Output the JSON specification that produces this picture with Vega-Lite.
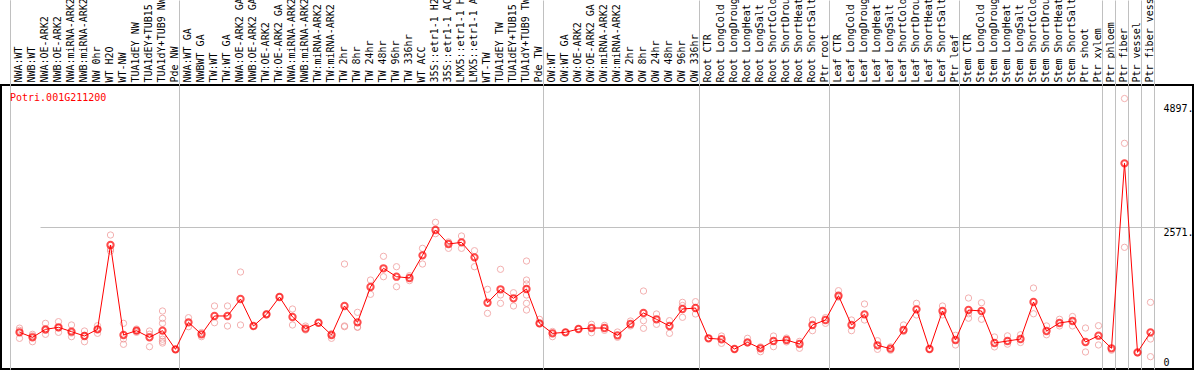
{
  "$schema": "https://vega.github.io/schema/vega-lite/v6.json",
  "width": 1192,
  "height": 284,
  "autosize": {"type": "none"},
  "padding": {"left": 1, "top": 85, "right": 1, "bottom": 1},
  "background": "white",
  "config": {"view": {"stroke": "black", "strokeWidth": 2}, "font": "DejaVu Sans Mono"},
  "title": {"text": "Potri.001G211200", "anchor": "start", "frame": "group", "color": "#ff0000", "font": "DejaVu Sans Mono", "fontSize": 10, "fontWeight": "normal", "baseline": "middle", "offset": -128, "dx": 9},
  "datasets": {
    "means": [
      {"c": "NWA:WT", "v": 664}, {"c": "NWB:WT", "v": 574}, {"c": "NWA:OE-ARK2", "v": 718}, {"c": "NWB:OE-ARK2", "v": 755},
      {"c": "NWA:miRNA-ARK2", "v": 676}, {"c": "NWB:miRNA-ARK2", "v": 597}, {"c": "NW 0hr", "v": 718}, {"c": "WT H2O", "v": 2245},
      {"c": "WT-NW", "v": 616}, {"c": "TUA1dEY NW", "v": 694}, {"c": "TUA1dEY+TUB15 NW", "v": 574}, {"c": "TUA1dY+TUB9 NW", "v": 694},
      {"c": "Pde NW", "v": 356},
      {"c": "NWA:WT GA", "v": 845}, {"c": "NWBWT GA", "v": 628}, {"c": "TW:WT", "v": 960}, {"c": "TW:WT GA", "v": 960},
      {"c": "NWA:OE-ARK2 GA", "v": 1267}, {"c": "NWB:OE-ARK2 GA", "v": 778}, {"c": "TW:OE-ARK2", "v": 990}, {"c": "TW:OE-ARK2 GA", "v": 1304},
      {"c": "NWA:miRNA-ARK2 GA", "v": 942}, {"c": "NWB:miRNA-ARK2 GA", "v": 730}, {"c": "TW:miRNA-ARK2", "v": 838}, {"c": "TW:miRNA-ARK2 GA", "v": 616},
      {"c": "TW 2hr", "v": 1141}, {"c": "TW 8hr", "v": 845}, {"c": "TW 24hr", "v": 1485}, {"c": "TW 48hr", "v": 1823},
      {"c": "TW 96hr", "v": 1671}, {"c": "TW 336hr", "v": 1648}, {"c": "WT ACC", "v": 2058}, {"c": "35S::etr1-1 H2O", "v": 2517},
      {"c": "35S::etr1-1 ACC", "v": 2263}, {"c": "LMX5::etr1-1 H2O", "v": 2293}, {"c": "LMX5::etr1-1 ACC", "v": 2022}, {"c": "WT-TW", "v": 1200},
      {"c": "TUA1dEY TW", "v": 1443}, {"c": "TUA1dEY+TUB15 TW", "v": 1280}, {"c": "TUA1dY+TUB9 TW", "v": 1448}, {"c": "Pde TW", "v": 827},
      {"c": "OW:WT", "v": 646}, {"c": "OW:WT GA", "v": 664}, {"c": "OW:OE-ARK2", "v": 724}, {"c": "OW:OE-ARK2 GA", "v": 742},
      {"c": "OW:miRNA-ARK2", "v": 742}, {"c": "OW:miRNA-ARK2 GA", "v": 610}, {"c": "OW 2hr", "v": 815}, {"c": "OW 8hr", "v": 1014},
      {"c": "OW 24hr", "v": 900}, {"c": "OW 48hr", "v": 778}, {"c": "OW 96hr", "v": 1086}, {"c": "OW 336hr", "v": 1104},
      {"c": "Root CTR", "v": 556}, {"c": "Root LongCold", "v": 538}, {"c": "Root LongDrought", "v": 362}, {"c": "Root LongHeat", "v": 483},
      {"c": "Root LongSalt", "v": 375}, {"c": "Root ShortCold", "v": 507}, {"c": "Root ShortDrought", "v": 525}, {"c": "Root ShortHeat", "v": 453},
      {"c": "Root ShortSalt", "v": 797}, {"c": "Ptr root", "v": 887},
      {"c": "Leaf CTR", "v": 1327}, {"c": "Leaf LongCold", "v": 797}, {"c": "Leaf LongDrought", "v": 990}, {"c": "Leaf LongHeat", "v": 429},
      {"c": "Leaf LongSalt", "v": 368}, {"c": "Leaf ShortCold", "v": 706}, {"c": "Leaf ShortDrought", "v": 1080}, {"c": "Leaf ShortHeat", "v": 362},
      {"c": "Leaf ShortSalt", "v": 1050}, {"c": "Ptr leaf", "v": 525},
      {"c": "Stem CTR", "v": 1068}, {"c": "Stem LongCold", "v": 1050}, {"c": "Stem LongDrought", "v": 471}, {"c": "Stem LongHeat", "v": 507},
      {"c": "Stem LongSalt", "v": 543}, {"c": "Stem ShortCold", "v": 1213}, {"c": "Stem ShortDrought", "v": 688}, {"c": "Stem ShortHeat", "v": 833},
      {"c": "Stem ShortSalt", "v": 869}, {"c": "Ptr shoot", "v": 489}, {"c": "Ptr xylem", "v": 603},
      {"c": "Ptr phloem", "v": 375}, {"c": "Ptr fiber", "v": 3724}, {"c": "Ptr vessel", "v": 302}, {"c": "Ptr fiber vessel", "v": 664}
    ],
    "reps": [
      {"c": "NWA:WT", "v": 740}, {"c": "NWA:WT", "v": 700}, {"c": "NWA:WT", "v": 555},
      {"c": "NWB:WT", "v": 628}, {"c": "NWB:WT", "v": 600}, {"c": "NWB:WT", "v": 494},
      {"c": "NWA:OE-ARK2", "v": 827}, {"c": "NWA:OE-ARK2", "v": 628}, {"c": "NWA:OE-ARK2", "v": 700},
      {"c": "NWB:OE-ARK2", "v": 857}, {"c": "NWB:OE-ARK2", "v": 664}, {"c": "NWB:OE-ARK2", "v": 745},
      {"c": "NWA:miRNA-ARK2", "v": 797}, {"c": "NWA:miRNA-ARK2", "v": 585}, {"c": "NWA:miRNA-ARK2", "v": 650},
      {"c": "NWB:miRNA-ARK2", "v": 688}, {"c": "NWB:miRNA-ARK2", "v": 494}, {"c": "NWB:miRNA-ARK2", "v": 610},
      {"c": "NW 0hr", "v": 784}, {"c": "NW 0hr", "v": 646}, {"c": "NW 0hr", "v": 720},
      {"c": "WT H2O", "v": 2426}, {"c": "WT H2O", "v": 2136}, {"c": "WT H2O", "v": 2173},
      {"c": "WT-NW", "v": 827}, {"c": "WT-NW", "v": 543}, {"c": "WT-NW", "v": 447},
      {"c": "TUA1dEY NW", "v": 724}, {"c": "TUA1dEY NW", "v": 664}, {"c": "TUA1dEY NW", "v": 694},
      {"c": "TUA1dEY+TUB15 NW", "v": 688}, {"c": "TUA1dEY+TUB15 NW", "v": 404}, {"c": "TUA1dEY+TUB15 NW", "v": 630},
      {"c": "TUA1dY+TUB9 NW", "v": 1050}, {"c": "TUA1dY+TUB9 NW", "v": 917}, {"c": "TUA1dY+TUB9 NW", "v": 827}, {"c": "TUA1dY+TUB9 NW", "v": 600},
      {"c": "TUA1dY+TUB9 NW", "v": 540}, {"c": "TUA1dY+TUB9 NW", "v": 500}, {"c": "TUA1dY+TUB9 NW", "v": 470},
      {"c": "Pde NW", "v": 356}, {"c": "Pde NW", "v": 350},
      {"c": "NWA:WT GA", "v": 929}, {"c": "NWA:WT GA", "v": 766},
      {"c": "NWBWT GA", "v": 585}, {"c": "NWBWT GA", "v": 660},
      {"c": "TW:WT", "v": 1141}, {"c": "TW:WT", "v": 838},
      {"c": "TW:WT GA", "v": 1141}, {"c": "TW:WT GA", "v": 778},
      {"c": "NWA:OE-ARK2 GA", "v": 1756}, {"c": "NWA:OE-ARK2 GA", "v": 797},
      {"c": "NWB:OE-ARK2 GA", "v": 778},
      {"c": "TW:OE-ARK2", "v": 1000}, {"c": "TW:OE-ARK2", "v": 980},
      {"c": "TW:OE-ARK2 GA", "v": 1304},
      {"c": "NWA:miRNA-ARK2 GA", "v": 1086}, {"c": "NWA:miRNA-ARK2 GA", "v": 797},
      {"c": "NWB:miRNA-ARK2 GA", "v": 778}, {"c": "NWB:miRNA-ARK2 GA", "v": 706},
      {"c": "TW:miRNA-ARK2", "v": 838},
      {"c": "TW:miRNA-ARK2 GA", "v": 640}, {"c": "TW:miRNA-ARK2 GA", "v": 556},
      {"c": "TW 2hr", "v": 1901}, {"c": "TW 2hr", "v": 766}, {"c": "TW 2hr", "v": 780},
      {"c": "TW 8hr", "v": 1026}, {"c": "TW 8hr", "v": 755}, {"c": "TW 8hr", "v": 760},
      {"c": "TW 24hr", "v": 1611}, {"c": "TW 24hr", "v": 1352},
      {"c": "TW 48hr", "v": 2040}, {"c": "TW 48hr", "v": 1671},
      {"c": "TW 96hr", "v": 1852}, {"c": "TW 96hr", "v": 1490},
      {"c": "TW 336hr", "v": 1690}, {"c": "TW 336hr", "v": 1600},
      {"c": "WT ACC", "v": 2185}, {"c": "WT ACC", "v": 1901},
      {"c": "35S::etr1-1 H2O", "v": 2656}, {"c": "35S::etr1-1 H2O", "v": 2450},
      {"c": "35S::etr1-1 ACC", "v": 2300}, {"c": "35S::etr1-1 ACC", "v": 2185},
      {"c": "LMX5::etr1-1 H2O", "v": 2408}, {"c": "LMX5::etr1-1 H2O", "v": 2185},
      {"c": "LMX5::etr1-1 ACC", "v": 2142}, {"c": "LMX5::etr1-1 ACC", "v": 1852},
      {"c": "WT-TW", "v": 1443}, {"c": "WT-TW", "v": 1008},
      {"c": "TUA1dEY TW", "v": 1805}, {"c": "TUA1dEY TW", "v": 1340}, {"c": "TUA1dEY TW", "v": 1189},
      {"c": "TUA1dEY+TUB15 TW", "v": 1381}, {"c": "TUA1dEY+TUB15 TW", "v": 1141},
      {"c": "TUA1dY+TUB9 TW", "v": 1955}, {"c": "TUA1dY+TUB9 TW", "v": 1611}, {"c": "TUA1dY+TUB9 TW", "v": 1539},
      {"c": "TUA1dY+TUB9 TW", "v": 1340}, {"c": "TUA1dY+TUB9 TW", "v": 1189}, {"c": "TUA1dY+TUB9 TW", "v": 1068},
      {"c": "Pde TW", "v": 900}, {"c": "Pde TW", "v": 820},
      {"c": "OW:WT", "v": 680}, {"c": "OW:WT", "v": 585},
      {"c": "OW:WT GA", "v": 664},
      {"c": "OW:OE-ARK2", "v": 724},
      {"c": "OW:OE-ARK2 GA", "v": 809}, {"c": "OW:OE-ARK2 GA", "v": 657},
      {"c": "OW:miRNA-ARK2", "v": 790}, {"c": "OW:miRNA-ARK2", "v": 700},
      {"c": "OW:miRNA-ARK2 GA", "v": 670}, {"c": "OW:miRNA-ARK2 GA", "v": 574},
      {"c": "OW 2hr", "v": 869}, {"c": "OW 2hr", "v": 780},
      {"c": "OW 8hr", "v": 1412}, {"c": "OW 8hr", "v": 875}, {"c": "OW 8hr", "v": 737},
      {"c": "OW 24hr", "v": 996}, {"c": "OW 24hr", "v": 809},
      {"c": "OW 48hr", "v": 875}, {"c": "OW 48hr", "v": 646},
      {"c": "OW 96hr", "v": 1207}, {"c": "OW 96hr", "v": 1150}, {"c": "OW 96hr", "v": 936},
      {"c": "OW 336hr", "v": 1219}, {"c": "OW 336hr", "v": 996},
      {"c": "Root CTR", "v": 556},
      {"c": "Root LongCold", "v": 597}, {"c": "Root LongCold", "v": 465},
      {"c": "Root LongDrought", "v": 362},
      {"c": "Root LongHeat", "v": 556}, {"c": "Root LongHeat", "v": 470},
      {"c": "Root LongSalt", "v": 313}, {"c": "Root LongSalt", "v": 400},
      {"c": "Root ShortCold", "v": 597}, {"c": "Root ShortCold", "v": 404},
      {"c": "Root ShortDrought", "v": 560}, {"c": "Root ShortDrought", "v": 490},
      {"c": "Root ShortHeat", "v": 500}, {"c": "Root ShortHeat", "v": 375},
      {"c": "Root ShortSalt", "v": 887}, {"c": "Root ShortSalt", "v": 694},
      {"c": "Ptr root", "v": 930}, {"c": "Ptr root", "v": 827},
      {"c": "Leaf CTR", "v": 1418}, {"c": "Leaf CTR", "v": 1300},
      {"c": "Leaf LongCold", "v": 887}, {"c": "Leaf LongCold", "v": 694},
      {"c": "Leaf LongDrought", "v": 1177}, {"c": "Leaf LongDrought", "v": 887},
      {"c": "Leaf LongHeat", "v": 512}, {"c": "Leaf LongHeat", "v": 356},
      {"c": "Leaf LongSalt", "v": 400}, {"c": "Leaf LongSalt", "v": 340},
      {"c": "Leaf ShortCold", "v": 797}, {"c": "Leaf ShortCold", "v": 680},
      {"c": "Leaf ShortDrought", "v": 1189}, {"c": "Leaf ShortDrought", "v": 978},
      {"c": "Leaf ShortHeat", "v": 362},
      {"c": "Leaf ShortSalt", "v": 1141}, {"c": "Leaf ShortSalt", "v": 980},
      {"c": "Ptr leaf", "v": 610}, {"c": "Ptr leaf", "v": 435},
      {"c": "Stem CTR", "v": 1285}, {"c": "Stem CTR", "v": 1000}, {"c": "Stem CTR", "v": 920},
      {"c": "Stem LongCold", "v": 1200}, {"c": "Stem LongCold", "v": 900},
      {"c": "Stem LongDrought", "v": 580}, {"c": "Stem LongDrought", "v": 400},
      {"c": "Stem LongHeat", "v": 600}, {"c": "Stem LongHeat", "v": 450},
      {"c": "Stem LongSalt", "v": 620}, {"c": "Stem LongSalt", "v": 480},
      {"c": "Stem ShortCold", "v": 1466}, {"c": "Stem ShortCold", "v": 1000},
      {"c": "Stem ShortDrought", "v": 780}, {"c": "Stem ShortDrought", "v": 620},
      {"c": "Stem ShortHeat", "v": 900}, {"c": "Stem ShortHeat", "v": 780},
      {"c": "Stem ShortSalt", "v": 950}, {"c": "Stem ShortSalt", "v": 780},
      {"c": "Ptr shoot", "v": 742}, {"c": "Ptr shoot", "v": 308},
      {"c": "Ptr xylem", "v": 784}, {"c": "Ptr xylem", "v": 435},
      {"c": "Ptr phloem", "v": 340},
      {"c": "Ptr fiber", "v": 4897}, {"c": "Ptr fiber", "v": 4086}, {"c": "Ptr fiber", "v": 2203},
      {"c": "Ptr vessel", "v": 290},
      {"c": "Ptr fiber vessel", "v": 1207}, {"c": "Ptr fiber vessel", "v": 543}, {"c": "Ptr fiber vessel", "v": 223}
    ]
  },
  "layer": [
    {
      "data": {"name": "reps"},
      "mark": {"type": "point", "shape": "circle", "filled": false, "color": "#ef8f8f", "size": 40, "strokeWidth": 1, "xOffset": 3},
      "encoding": {
        "x": {
          "field": "c", "type": "nominal", "sort": null,
          "scale": {"type": "band", "domain": ["NWA:WT","NWB:WT","NWA:OE-ARK2","NWB:OE-ARK2","NWA:miRNA-ARK2","NWB:miRNA-ARK2","NW 0hr","WT H2O","WT-NW","TUA1dEY NW","TUA1dEY+TUB15 NW","TUA1dY+TUB9 NW","Pde NW","NWA:WT GA","NWBWT GA","TW:WT","TW:WT GA","NWA:OE-ARK2 GA","NWB:OE-ARK2 GA","TW:OE-ARK2","TW:OE-ARK2 GA","NWA:miRNA-ARK2 GA","NWB:miRNA-ARK2 GA","TW:miRNA-ARK2","TW:miRNA-ARK2 GA","TW 2hr","TW 8hr","TW 24hr","TW 48hr","TW 96hr","TW 336hr","WT ACC","35S::etr1-1 H2O","35S::etr1-1 ACC","LMX5::etr1-1 H2O","LMX5::etr1-1 ACC","WT-TW","TUA1dEY TW","TUA1dEY+TUB15 TW","TUA1dY+TUB9 TW","Pde TW","OW:WT","OW:WT GA","OW:OE-ARK2","OW:OE-ARK2 GA","OW:miRNA-ARK2","OW:miRNA-ARK2 GA","OW 2hr","OW 8hr","OW 24hr","OW 48hr","OW 96hr","OW 336hr","Root CTR","Root LongCold","Root LongDrought","Root LongHeat","Root LongSalt","Root ShortCold","Root ShortDrought","Root ShortHeat","Root ShortSalt","Ptr root","Leaf CTR","Leaf LongCold","Leaf LongDrought","Leaf LongHeat","Leaf LongSalt","Leaf ShortCold","Leaf ShortDrought","Leaf ShortHeat","Leaf ShortSalt","Ptr leaf","Stem CTR","Stem LongCold","Stem LongDrought","Stem LongHeat","Stem LongSalt","Stem ShortCold","Stem ShortDrought","Stem ShortHeat","Stem ShortSalt","Ptr shoot","Ptr xylem","Ptr phloem","Ptr fiber","Ptr vessel","Ptr fiber vessel"], "range": [9, 1153], "paddingInner": 0, "paddingOuter": 0},
          "axis": {"orient": "top", "title": null, "labelAngle": -90, "labelAlign": "left", "labelBaseline": "middle", "ticks": false, "domain": false, "grid": false, "labelFont": "DejaVu Sans Mono", "labelFontSize": 10, "labelColor": "black", "labelPadding": 3, "labelOffset": 2.5, "labelOverlap": false, "labelLimit": 0}
        },
        "y": {
          "field": "v", "type": "quantitative",
          "scale": {"domain": [0, 5142], "nice": false, "zero": false},
          "axis": {"orient": "right", "title": null, "values": [0, 2571, 4897], "labelExpr": "datum.value === 0 ? '0' : datum.value + '.'", "ticks": false, "tickSize": 0, "domain": false, "labelPadding": -30, "labelFont": "DejaVu Sans Mono", "labelFontSize": 10, "labelColor": "black", "labelFlush": false,
            "labelBaseline": {"condition": {"test": "datum.value === 0", "value": "bottom"}, "value": "top"},
            "labelOffset": {"condition": [{"test": "datum.value === 0", "value": -2}, {"test": "datum.value === 4897", "value": 5}], "value": 0},
            "grid": true, "gridColor": "#c0c0c0", "gridOpacity": {"condition": {"test": "datum.value === 2571", "value": 1}, "value": 0}}
        }
      }
    },
    {
      "data": {"name": "means"},
      "mark": {"type": "line", "color": "#ff0000", "strokeWidth": 1, "xOffset": 3},
      "encoding": {
        "x": {
          "field": "c", "type": "nominal", "sort": null,
          "scale": {"type": "band", "domain": ["NWA:WT","NWB:WT","NWA:OE-ARK2","NWB:OE-ARK2","NWA:miRNA-ARK2","NWB:miRNA-ARK2","NW 0hr","WT H2O","WT-NW","TUA1dEY NW","TUA1dEY+TUB15 NW","TUA1dY+TUB9 NW","Pde NW","NWA:WT GA","NWBWT GA","TW:WT","TW:WT GA","NWA:OE-ARK2 GA","NWB:OE-ARK2 GA","TW:OE-ARK2","TW:OE-ARK2 GA","NWA:miRNA-ARK2 GA","NWB:miRNA-ARK2 GA","TW:miRNA-ARK2","TW:miRNA-ARK2 GA","TW 2hr","TW 8hr","TW 24hr","TW 48hr","TW 96hr","TW 336hr","WT ACC","35S::etr1-1 H2O","35S::etr1-1 ACC","LMX5::etr1-1 H2O","LMX5::etr1-1 ACC","WT-TW","TUA1dEY TW","TUA1dEY+TUB15 TW","TUA1dY+TUB9 TW","Pde TW","OW:WT","OW:WT GA","OW:OE-ARK2","OW:OE-ARK2 GA","OW:miRNA-ARK2","OW:miRNA-ARK2 GA","OW 2hr","OW 8hr","OW 24hr","OW 48hr","OW 96hr","OW 336hr","Root CTR","Root LongCold","Root LongDrought","Root LongHeat","Root LongSalt","Root ShortCold","Root ShortDrought","Root ShortHeat","Root ShortSalt","Ptr root","Leaf CTR","Leaf LongCold","Leaf LongDrought","Leaf LongHeat","Leaf LongSalt","Leaf ShortCold","Leaf ShortDrought","Leaf ShortHeat","Leaf ShortSalt","Ptr leaf","Stem CTR","Stem LongCold","Stem LongDrought","Stem LongHeat","Stem LongSalt","Stem ShortCold","Stem ShortDrought","Stem ShortHeat","Stem ShortSalt","Ptr shoot","Ptr xylem","Ptr phloem","Ptr fiber","Ptr vessel","Ptr fiber vessel"], "range": [9, 1153], "paddingInner": 0, "paddingOuter": 0},
          "axis": {"orient": "top", "title": null, "values": ["NWA:WT","Pde NW","Pde TW","OW 336hr","Ptr root","Ptr leaf","Ptr xylem","Ptr phloem","Ptr fiber","Ptr vessel","Ptr fiber vessel"], "tickBand": "extent", "labels": false, "domain": false, "ticks": true, "tickSize": 85, "tickColor": "#c0c0c0", "tickWidth": 1, "grid": true, "gridColor": "#c0c0c0", "gridWidth": 1,
            "tickOpacity": {"condition": {"test": "datum.value === 'NWA:WT'", "value": 0}, "value": 1},
            "gridOpacity": {"condition": {"test": "datum.value === 'NWA:WT'", "value": 0}, "value": 1}}
        },
        "y": {"field": "v", "type": "quantitative", "scale": {"domain": [0, 5142], "nice": false, "zero": false}, "axis": null},
        "order": {"value": null}
      }
    },
    {
      "data": {"name": "means"},
      "mark": {"type": "point", "shape": "circle", "filled": false, "color": "#ff0000", "size": 40, "strokeWidth": 2, "xOffset": 3},
      "encoding": {
        "x": {
          "field": "c", "type": "nominal", "sort": null,
          "scale": {"type": "band", "domain": ["NWA:WT","NWB:WT","NWA:OE-ARK2","NWB:OE-ARK2","NWA:miRNA-ARK2","NWB:miRNA-ARK2","NW 0hr","WT H2O","WT-NW","TUA1dEY NW","TUA1dEY+TUB15 NW","TUA1dY+TUB9 NW","Pde NW","NWA:WT GA","NWBWT GA","TW:WT","TW:WT GA","NWA:OE-ARK2 GA","NWB:OE-ARK2 GA","TW:OE-ARK2","TW:OE-ARK2 GA","NWA:miRNA-ARK2 GA","NWB:miRNA-ARK2 GA","TW:miRNA-ARK2","TW:miRNA-ARK2 GA","TW 2hr","TW 8hr","TW 24hr","TW 48hr","TW 96hr","TW 336hr","WT ACC","35S::etr1-1 H2O","35S::etr1-1 ACC","LMX5::etr1-1 H2O","LMX5::etr1-1 ACC","WT-TW","TUA1dEY TW","TUA1dEY+TUB15 TW","TUA1dY+TUB9 TW","Pde TW","OW:WT","OW:WT GA","OW:OE-ARK2","OW:OE-ARK2 GA","OW:miRNA-ARK2","OW:miRNA-ARK2 GA","OW 2hr","OW 8hr","OW 24hr","OW 48hr","OW 96hr","OW 336hr","Root CTR","Root LongCold","Root LongDrought","Root LongHeat","Root LongSalt","Root ShortCold","Root ShortDrought","Root ShortHeat","Root ShortSalt","Ptr root","Leaf CTR","Leaf LongCold","Leaf LongDrought","Leaf LongHeat","Leaf LongSalt","Leaf ShortCold","Leaf ShortDrought","Leaf ShortHeat","Leaf ShortSalt","Ptr leaf","Stem CTR","Stem LongCold","Stem LongDrought","Stem LongHeat","Stem LongSalt","Stem ShortCold","Stem ShortDrought","Stem ShortHeat","Stem ShortSalt","Ptr shoot","Ptr xylem","Ptr phloem","Ptr fiber","Ptr vessel","Ptr fiber vessel"], "range": [9, 1153], "paddingInner": 0, "paddingOuter": 0},
          "axis": {"orient": "top", "title": null, "values": ["NWA:WT"], "bandPosition": 0, "labels": false, "domain": false, "ticks": true, "tickSize": 85, "tickColor": "#c0c0c0", "tickWidth": 1, "grid": true, "gridColor": "#c0c0c0", "gridWidth": 1}
        },
        "y": {"field": "v", "type": "quantitative", "scale": {"domain": [0, 5142], "nice": false, "zero": false}, "axis": null}
      }
    }
  ],
  "resolve": {"axis": {"x": "independent", "y": "independent"}}
}
